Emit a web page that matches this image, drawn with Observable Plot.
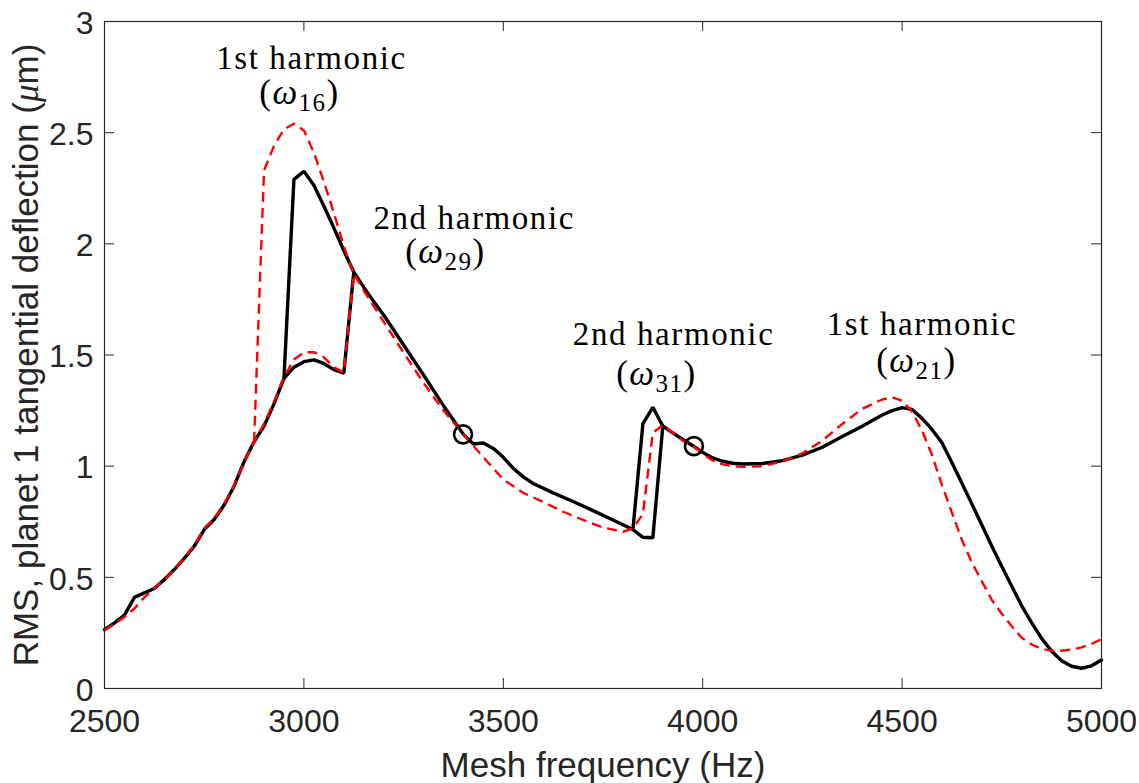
<!DOCTYPE html>
<html>
<head>
<meta charset="utf-8">
<script src="https://cdn.jsdelivr.net/npm/d3@7"></script>
<script src="https://cdn.jsdelivr.net/npm/@observablehq/plot@0.6"></script>
<style>
  html, body { margin: 0; padding: 0; background: white; }
</style>
</head>
<body>
<script>
// ---- axis ticks ----
const xTicks = [2500, 3000, 3500, 4000, 4500, 5000];
const yTicks = [0, 0.5, 1, 1.5, 2, 2.5, 3];

// ---- black solid model: sweep-up path ----
const blackUpFreq = [2500,2525,2550,2575,2600,2625,2650,2675,2700,2725,2750,2775,2800,2825,2850,2875,2900,2925,2950,2975,3000,3025,3050,3075,3100,3125,3150,3175,3200,3250,3300,3350,3400,3425,3450,3475,3500,3525,3550,3575,3625,3675,3725,3775,3825,3850,3875,3900,3925,3950,3975,4000,4025,4050,4075,4100,4150,4200,4250,4300,4350,4400,4450,4475,4500,4525,4550,4575,4600,4625,4650,4675,4700,4725,4750,4775,4800,4825,4850,4875,4900,4925,4950,4975,5000];
const blackUpVal = [0.265,0.295,0.33,0.41,0.43,0.45,0.49,0.535,0.585,0.64,0.715,0.76,0.825,0.91,1.02,1.11,1.18,1.28,1.395,1.445,1.47,1.478,1.462,1.434,1.418,1.873,1.805,1.74,1.68,1.545,1.41,1.272,1.143,1.10,1.104,1.08,1.04,0.99,0.952,0.922,0.88,0.841,0.80,0.758,0.715,0.68,0.678,1.18,1.15,1.12,1.092,1.062,1.037,1.022,1.013,1.01,1.012,1.025,1.05,1.085,1.133,1.18,1.23,1.25,1.263,1.255,1.215,1.165,1.105,1.015,0.923,0.83,0.735,0.64,0.549,0.46,0.372,0.295,0.225,0.168,0.125,0.10,0.091,0.102,0.128];

// ---- black solid model: sweep-down branches that differ ----
const blackDownFreqA = [2950, 2975, 3000, 3025, 3050, 3075, 3100, 3125];
const blackDownValA  = [1.395, 2.29, 2.326, 2.263, 2.17, 2.072, 1.97, 1.873];
const blackDownFreqB = [3825, 3850, 3875, 3900];
const blackDownValB  = [0.715, 1.19, 1.265, 1.18];

// ---- red dashed model: sweep-up path ----
const redUpFreq = [2500,2525,2550,2575,2600,2625,2650,2675,2700,2725,2750,2775,2800,2825,2850,2875,2900,2925,2950,2975,3000,3025,3050,3075,3100,3125,3150,3200,3250,3300,3350,3400,3450,3500,3550,3600,3650,3700,3750,3800,3825,3850,3875,3900,3925,3950,3975,4000,4025,4050,4075,4100,4150,4200,4250,4300,4350,4400,4450,4475,4500,4525,4550,4575,4600,4625,4650,4675,4700,4725,4750,4775,4800,4825,4850,4875,4900,4925,4950,4975,5000];
const redUpVal = [0.262,0.29,0.322,0.36,0.41,0.45,0.49,0.535,0.585,0.645,0.72,0.765,0.83,0.915,1.015,1.11,1.19,1.29,1.40,1.48,1.512,1.513,1.49,1.445,1.422,1.865,1.79,1.65,1.51,1.375,1.25,1.143,1.04,0.94,0.88,0.839,0.795,0.758,0.724,0.705,0.72,0.785,1.15,1.185,1.15,1.115,1.09,1.055,1.025,1.008,1.0,0.997,1.0,1.022,1.058,1.115,1.19,1.258,1.30,1.31,1.295,1.245,1.16,1.05,0.915,0.79,0.668,0.566,0.482,0.398,0.336,0.28,0.228,0.198,0.178,0.17,0.17,0.175,0.185,0.2,0.222];

// ---- red dashed model: sweep-down branch that differs ----
const redDownFreq = [2875, 2900, 2925, 2950, 2975, 3000, 3025, 3050, 3075, 3100, 3125];
const redDownVal  = [1.11, 2.33, 2.44, 2.515, 2.54, 2.51, 2.41, 2.28, 2.14, 1.99, 1.865];

// ---- marked points (circles) ----
const circleFreq = [3399, 3978];
const circleVal  = [1.143, 1.09];

// ---- annotations ----
const annoLine1 = ["1st harmonic", "2nd harmonic", "2nd harmonic", "1st harmonic"];
const annoFreq1 = [3019, 3427, 3927, 4550];
const annoVal1  = [2.787, 2.068, 1.543, 1.588];
const annoMode  = ["16", "29", "31", "21"];
const annoFreq2 = [2989, 3355, 3884, 4536];
const annoVal2  = [2.631, 1.912, 1.363, 1.423];

const xLabel = "Mesh frequency (Hz)";
const yLabel = "RMS, planet 1 tangential deflection (μm)";

const W = 1139, H = 783;
const mL = 104, mR = 38, mT = 21, mB = 95;
const plotW = W - mL - mR, plotH = H - mT - mB;
const tickLen = 10;
const axisColor = "#262626";

const chart = Plot.plot({
  width: W, height: H,
  marginLeft: mL, marginRight: mR, marginTop: mT, marginBottom: mB,
  x: {domain: [2500, 5000]},
  y: {domain: [0, 3]},
  style: {fontFamily: "'Liberation Sans', Arial, sans-serif", background: "white", color: axisColor},
  marks: [
    // inward ticks on all four sides
    Plot.tickX(xTicks, {x: d => d, insetTop: plotH - tickLen, stroke: axisColor, strokeWidth: 1}),
    Plot.tickX(xTicks, {x: d => d, insetBottom: plotH - tickLen, stroke: axisColor, strokeWidth: 1}),
    Plot.tickY(yTicks, {y: d => d, insetRight: plotW - tickLen, stroke: axisColor, strokeWidth: 1}),
    Plot.tickY(yTicks, {y: d => d, insetLeft: plotW - tickLen, stroke: axisColor, strokeWidth: 1}),
    Plot.axisX({ticks: xTicks, tickSize: 0, tickPadding: 21, fontSize: 32, label: null, tickFormat: d => String(d), fill: axisColor}),
    Plot.axisY({ticks: yTicks, tickSize: 0, tickPadding: 11, fontSize: 32, label: null, tickFormat: d => String(d), fill: axisColor, dy: 2}),
    // curves
    Plot.line(blackUpFreq, {x: d => d, y: (d, i) => blackUpVal[i], stroke: "black", strokeWidth: 3.4, strokeLinejoin: "miter"}),
    Plot.line(blackDownFreqA, {x: d => d, y: (d, i) => blackDownValA[i], stroke: "black", strokeWidth: 3.4, strokeLinejoin: "miter"}),
    Plot.line(blackDownFreqB, {x: d => d, y: (d, i) => blackDownValB[i], stroke: "black", strokeWidth: 3.4, strokeLinejoin: "miter"}),
    Plot.line(redUpFreq, {x: d => d, y: (d, i) => redUpVal[i], stroke: "#ff0000", strokeWidth: 2.4, strokeDasharray: "10,6", strokeLinecap: "butt"}),
    Plot.line(redDownFreq, {x: d => d, y: (d, i) => redDownVal[i], stroke: "#ff0000", strokeWidth: 2.4, strokeDasharray: "10,6", strokeLinecap: "butt"}),
    Plot.dot(circleFreq, {x: d => d, y: (d, i) => circleVal[i], r: 9, stroke: "black", strokeWidth: 2.6, fill: "none"}),
    // annotations
    Plot.text(annoLine1, {x: (d, i) => annoFreq1[i], y: (d, i) => annoVal1[i], text: d => d, lineAnchor: "bottom", fontFamily: "Liberation Serif", fontSize: 33, fill: "black"}),
    Plot.text(annoMode, {x: (d, i) => annoFreq2[i], y: (d, i) => annoVal2[i], text: d => "(ω" + d + ")", lineAnchor: "bottom", fontFamily: "Liberation Serif", fontSize: 35, fill: "black"}),
    Plot.frame({stroke: axisColor, strokeWidth: 1.2}),
    // axis labels
    Plot.text([xLabel], {frameAnchor: "bottom", textAnchor: "middle", text: d => d, lineAnchor: "bottom", dy: 88, fontSize: 35, fill: axisColor}),
    Plot.text([yLabel], {frameAnchor: "left", textAnchor: "middle", text: d => d, lineAnchor: "bottom", rotate: -90, dx: -67, fontSize: 35, fill: axisColor})
  ]
});

document.body.appendChild(chart);

// style refinements: letter spacing for LaTeX-like labels, italic omega / mu and subscripts
const svg = d3.select(chart);
svg.selectAll("text").each(function () {
  const el = d3.select(this);
  const t = this.textContent;
  const m = /^\(ω(\d+)\)$/.exec(t);
  if (m) {
    el.text(null).attr("letter-spacing", 1.5);
    el.append("tspan").text("(");
    el.append("tspan").attr("font-style", "italic").text("ω");
    el.append("tspan").attr("font-size", 25).attr("dy", 7).text(m[1]);
    el.append("tspan").attr("dy", -7).text(")");
  } else if (t === "1st harmonic" || t === "2nd harmonic") {
    el.attr("letter-spacing", 1.6);
  } else if (t === yLabel) {
    el.text(null);
    el.append("tspan").text("RMS, planet 1 tangential deflection (");
    el.append("tspan").attr("font-style", "italic").attr("font-family", "'Liberation Serif', serif").text("μ");
    el.append("tspan").text("m)");
  }
});
</script>
</body>
</html>
